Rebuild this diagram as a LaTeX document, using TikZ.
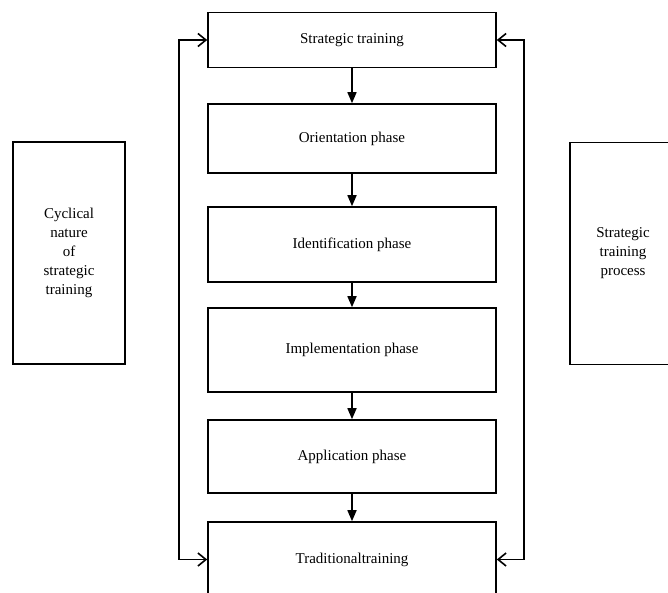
\documentclass[tikz,border=0pt]{standalone}
\usepackage{fontspec}
\setmainfont{Liberation Serif}
\usetikzlibrary{arrows.meta}

\begin{document}
\begin{tikzpicture}[x=1pt,y=-1pt,line width=1.6pt,
    box/.style={draw,rectangle,minimum width=288pt,inner sep=0pt,font=\fontsize{15}{18}\selectfont},
    sidebox/.style={draw,rectangle,minimum height=222pt,inner sep=0pt,align=center,font=\fontsize{15}{19}\selectfont},
    flow/.style={-{Triangle[width=9pt,length=11pt]}},
    cycle/.style={{Straight Barb[length=8pt,width=13pt]}-{Straight Barb[length=8pt,width=13pt]}}]
   \path[use as bounding box,clip] (0,0) rectangle (668,592);
   \node[box,minimum height=55pt] (strat)  at (352,40)    {Strategic training};
   \node[box,minimum height=69pt] (orient) at (352,138.5) {Orientation phase};
   \node[box,minimum height=75pt] (ident)  at (352,244.5) {Identification phase};
   \node[box,minimum height=84pt] (impl)   at (352,350)   {Implementation phase};
   \node[box,minimum height=73pt] (appl)   at (352,456.5) {Application phase};
   \node[box,minimum height=75pt] (trad)   at (352,559.5) {Traditionaltraining};
   \node[sidebox,minimum width=112pt] (cyc)  at (69,253)  {Cyclical\\nature\\of\\strategic\\training};
   \node[sidebox,minimum width=106pt] (proc) at (623,253.5) {Strategic\\training\\process};
    \path[flow]
    (strat)  edge (orient)
    (orient) edge (ident)
    (ident)  edge (impl)
    (impl)   edge (appl)
    (appl)   edge (trad);
   \draw[cycle] (strat.west) -- ++(-28,0) |- (trad.west);
   \draw[cycle] (strat.east) -- ++(27,0) |- (trad.east);
\end{tikzpicture}
\end{document}
